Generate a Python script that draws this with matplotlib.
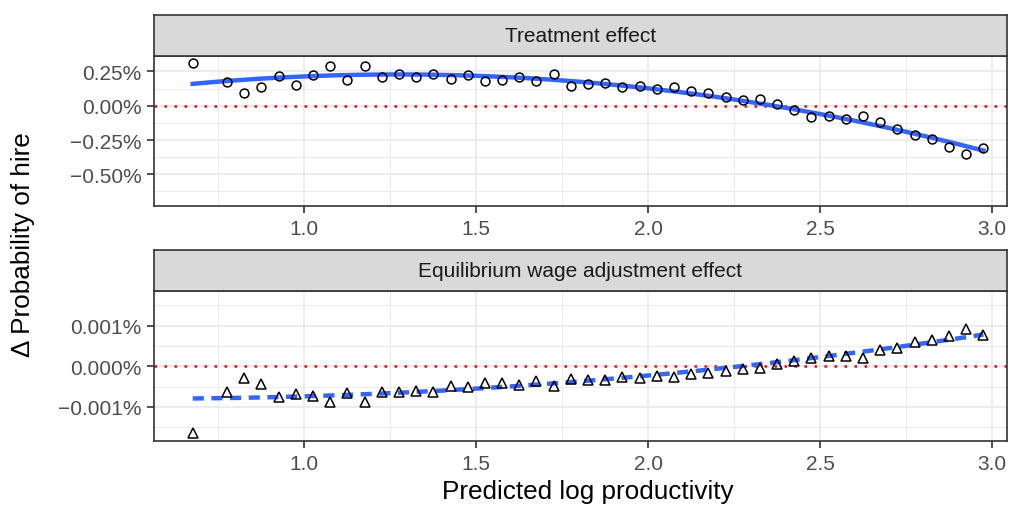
import numpy as np
import matplotlib
matplotlib.use("Agg")
import matplotlib.pyplot as plt
from matplotlib.ticker import FuncFormatter, MultipleLocator

plt.rcParams['font.family'] = ['Liberation Sans', 'DejaVu Sans']

# binned predicted log productivity
x_bins = [0.675] + [round(0.775 + 0.05 * i, 3) for i in range(45)]

# treatment effect, in percent
treat = [0.309, 0.175, 0.092, 0.134, 0.216, 0.151, 0.224, 0.287, 0.189, 0.287,
         0.209, 0.233, 0.211, 0.229, 0.194, 0.224, 0.180, 0.185, 0.211, 0.180,
         0.229, 0.147, 0.158, 0.163, 0.134, 0.141, 0.122, 0.134, 0.109, 0.090,
         0.063, 0.042, 0.049, 0.010, -0.029, -0.084, -0.073, -0.097, -0.075, -0.117,
         -0.170, -0.213, -0.243, -0.299, -0.352, -0.310]

# equilibrium wage adjustment effect, in thousandths of a percent
wage = [-1.633, -0.639, -0.295, -0.435, -0.747, -0.674, -0.738, -0.870, -0.649, -0.885,
        -0.625, -0.625, -0.607, -0.632, -0.477, -0.516, -0.418, -0.411, -0.467, -0.361,
        -0.477, -0.320, -0.329, -0.329, -0.270, -0.295, -0.246, -0.256, -0.197, -0.157,
        -0.116, -0.066, -0.034, 0.049, 0.130, 0.204, 0.246, 0.253, 0.211, 0.401,
        0.457, 0.605, 0.654, 0.745, 0.910, 0.777]

x = np.array(x_bins)
treat = np.array(treat)
wage = np.array(wage) / 1000.0

BLUE = '#3366FF'
GRID = '#EBEBEB'
DARK = '#333333'


def pct_fmt(decimals):
    def f(v, pos):
        s = f"{abs(v):.{decimals}f}%"
        return ("\u2212" + s) if v < -1e-12 else s
    return FuncFormatter(f)


def make_panel(fig, rect, strip_h, title, y, ylim, ymajor, decimals, marker, ls):
    ax = fig.add_axes(rect)
    sx = fig.add_axes([rect[0], rect[1] + rect[3], rect[2], strip_h])
    sx.set_facecolor('#D9D9D9')
    sx.set_xticks([])
    sx.set_yticks([])
    for sp in sx.spines.values():
        sp.set_color(DARK)
        sp.set_linewidth(1.2)
    sx.text(0.5, 0.5, title, ha='center', va='center', fontsize=15,
            color='#1A1A1A', transform=sx.transAxes)

    ax.set_xlim(0.5624, 3.0437)
    ax.set_ylim(*ylim)
    ax.xaxis.set_major_locator(MultipleLocator(0.5))
    ax.xaxis.set_minor_locator(MultipleLocator(0.25))
    ax.yaxis.set_major_locator(MultipleLocator(ymajor))
    ax.yaxis.set_minor_locator(MultipleLocator(ymajor / 2))
    ax.yaxis.set_major_formatter(pct_fmt(decimals))
    ax.grid(which='major', color=GRID, linewidth=1.3)
    ax.grid(which='minor', color=GRID, linewidth=0.7)
    ax.set_axisbelow(True)
    ax.tick_params(which='major', length=5, width=1.2, color=DARK,
                   labelsize=15, labelcolor='#4D4D4D', pad=4)
    ax.tick_params(which='minor', length=0)
    for sp in ax.spines.values():
        sp.set_color(DARK)
        sp.set_linewidth(1.2)

    ax.axhline(0, color='red', linewidth=1.8, linestyle=(0, (1, 3)), zorder=2)

    # quadratic smooth through the binned points
    coef = np.polyfit(x, y, 2)
    xs = np.linspace(x.min(), x.max(), 200)
    ax.plot(xs, np.polyval(coef, xs), color=BLUE, linewidth=3.2, linestyle=ls,
            zorder=3)
    ax.plot(x, y, linestyle='none', marker=marker, markerfacecolor='none',
            markeredgecolor='black', markeredgewidth=1.1,
            markersize=6.4 if marker == 'o' else 7.8, zorder=4)
    return ax


fig = plt.figure(figsize=(10.1, 5.06), dpi=100)
W, H = 1010.0, 506.0
left = 154 / W
width = (1007 - 154) / W

make_panel(fig, [left, 1 - 207.3 / H, width, (207.3 - 57.3) / H], 41 / H,
           'Treatment effect', treat, (-0.733, 0.36), 0.25, 2, 'o', '-')
make_panel(fig, [left, 1 - 442.3 / H, width, (442.3 - 291.7) / H], 41 / H,
           'Equilibrium wage adjustment effect', wage, (-0.001844, 0.001859),
           0.001, 3, '^', (0, (2.5, 1.7)))

fig.text(588 / W, 1 - 492 / H, 'Predicted log productivity', ha='center',
         va='center', fontsize=18.8)
fig.text(23 / W, 1 - 245 / H, '\u0394 Probability of hire', ha='center',
         va='center', rotation=90, fontsize=18.8)

fig.savefig('out.png', dpi=100)
